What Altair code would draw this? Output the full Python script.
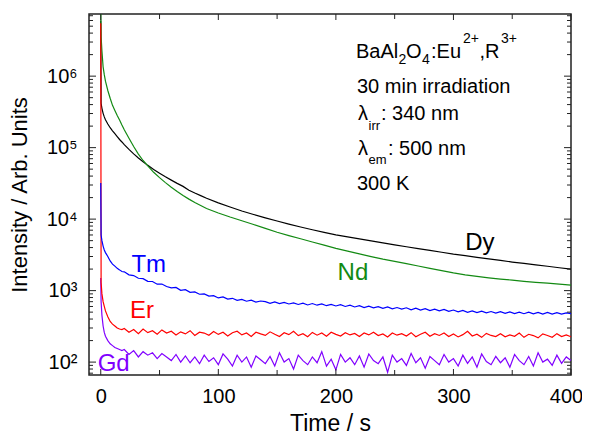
import altair as alt
import pandas as pd

# ---------------- data ----------------
TIME_SMOOTH = [0, 0.3, 1, 2, 3, 4, 6, 8, 10, 12, 14, 16, 18, 20, 24, 28, 32, 36, 40, 45, 50, 55, 60,
               65, 70, 75, 80, 85, 90] + list(range(100, 401, 10))
TIME_NOISY = [0, 0.3, 1, 2, 3, 4, 6, 8, 10, 12, 14, 16, 18] + list(range(20, 401, 4))

DY = [6000000, 417000, 355000, 302000, 269000, 245000, 214000, 190000, 172000, 157000, 143000, 130000, 120000,
      110000, 94400, 81800, 71600, 63400, 56500, 49500, 43900, 39100, 35100,
      31600, 28700, 25400, 23200, 21300, 19600,
      16900, 14800, 13000, 11600, 10400, 9400, 8510, 7760, 7110, 6530, 6030,
      5650, 5300, 4970, 4660, 4370, 4110, 3870, 3650, 3440, 3240,
      3080, 2920, 2780, 2640, 2510, 2400, 2290, 2190, 2090, 2000]

ND = [10000000, 3550000, 2240000, 1350000, 1050000, 850000, 630000, 490000, 390000, 331000, 282000, 243000, 207000,
      178000, 135000, 103500, 81300, 66100, 55600, 45200, 38000, 32400, 27900,
      24300, 21400, 19050, 17100, 15500, 14100,
      12200, 10700, 9480, 8410, 7410, 6560, 5890, 5310, 4790, 4320, 3890,
      3560, 3270, 2990, 2750, 2560, 2380, 2210, 2050, 1905, 1770,
      1660, 1580, 1510, 1450, 1400, 1350, 1305, 1270, 1230, 1195]

TM = [32000, 6000, 5000, 4200, 3700, 3400, 3000, 2600, 2350, 2200, 2050, 1950, 1850,
      1830, 1660, 1625, 1490, 1470, 1350, 1340, 1230, 1235, 1140,
      1090, 1110, 1010, 1030, 945, 960, 890, 900, 840, 850,
      790, 815, 760, 780, 730, 755, 710, 735, 690, 715,
      700, 665, 695, 660, 685, 650, 675, 640, 668, 630,
      660, 625, 650, 615, 640, 610, 635, 600, 625, 590,
      615, 580, 605, 575, 598, 565, 590, 555, 580, 550,
      575, 540, 568, 535, 558, 525, 550, 520, 545, 512,
      535, 505, 528, 498, 520, 492, 515, 488, 510, 485,
      508, 480, 505, 478, 500, 475, 498, 472, 495, 470,
      495, 470, 492, 468, 488, 476]

ER = [5500000, 1300, 900, 700, 600, 520, 430, 370, 340, 320, 300, 290, 285,
      295, 262, 285, 250, 290, 258, 275, 245, 282, 255,
      270, 240, 265, 248, 275, 236, 262, 255, 238, 268,
      244, 262, 232, 258, 270, 240, 255, 228, 262, 248,
      236, 265, 245, 228, 258, 242, 270, 235, 250, 226,
      260, 238, 255, 230, 262, 244, 232, 258, 240, 252,
      228, 256, 240, 262, 235, 248, 225, 255, 238, 250,
      232, 258, 226, 245, 262, 230, 250, 236, 255, 228,
      248, 225, 242, 270, 232, 246, 222, 252, 236, 228,
      250, 226, 240, 230, 255, 222, 245, 235, 218, 248,
      236, 222, 250, 228, 240, 226]

GD = [1500, 700, 450, 320, 260, 230, 200, 180, 170, 160, 155, 150, 145,
      150, 128, 145, 118, 140, 125, 135, 112, 132, 118,
      105, 128, 100, 122, 98, 118, 95, 125, 102, 115,
      92, 130, 110, 88, 125, 100, 118, 85, 122, 108,
      95, 120, 88, 135, 100, 112, 80, 125, 105, 92,
      118, 98, 140, 88, 110, 78, 128, 100, 115, 92,
      122, 85, 130, 105, 95, 118, 72, 125, 100, 112,
      90, 132, 98, 115, 82, 120, 105, 92, 128, 100,
      112, 88, 125, 96, 118, 85, 130, 102, 92, 120,
      98, 115, 85, 128, 105, 92, 120, 88, 135, 100,
      110, 90, 125, 96, 118, 105]

SERIES_ORDER = ["Dy", "Nd", "Gd", "Er", "Tm"]
SERIES_VALUES = {"Dy": DY, "Nd": ND, "Tm": TM, "Er": ER, "Gd": GD}
SERIES_TIME = {"Dy": TIME_SMOOTH, "Nd": TIME_SMOOTH, "Tm": TIME_NOISY, "Er": TIME_NOISY, "Gd": TIME_NOISY}
COLORS = {"Dy": "#000000", "Nd": "#138a13", "Tm": "#0000ff", "Er": "#ff0000", "Gd": "#8000ff"}

LABEL_NAMES = ["Tm", "Er", "Gd", "Nd", "Dy"]
LABEL_T = [40.8, 35, 11, 214.5, 322.5]
LABEL_I = [2275, 516, 94, 1787, 4690]

X_MAJOR = [0, 100, 200, 300, 400]
X_MINOR = [50, 150, 250, 350]
Y_MAJOR = [1e2, 1e3, 1e4, 1e5, 1e6]
Y_MINOR = [70, 80, 90] + [m * 10 ** k for k in range(2, 7) for m in range(2, 10) if m * 10 ** k < 7.4e6]

FONT = "Liberation Sans"
W, H = 482, 361

xscale = alt.Scale(domain=[-10, 400], nice=False, zero=False)
yscale = alt.Scale(type="log", domain=[66, 7.4e6], nice=False)

xaxis = alt.Axis(values=X_MAJOR, title="Time / s", ticks=False, domain=False, grid=False,
                 labelFontSize=20, titleFontSize=23, labelPadding=11, titlePadding=6,
                 labelFont=FONT, titleFont=FONT, titleFontWeight="normal",
                 labelColor="black", titleColor="black", labelFlush=False,
                 labelOffset={"condition": {"test": "datum.value == 400", "value": -5}, "value": 0})
yaxis = alt.Axis(values=Y_MAJOR, title="Intensity / Arb. Units", ticks=False, domain=False, grid=False,
                 labelFontSize=20, titleFontSize=22, labelPadding=12, titlePadding=15,
                 labelFont=FONT, titleFont=FONT, titleFontWeight="normal",
                 labelColor="black", titleColor="black", labelFlush=False,
                 labelExpr="'10' + ['\u2070','\u00b9','\u00b2','\u00b3','\u2074','\u2075','\u2076','\u2077'][round(log(datum.value)/LN10)]")

X_ENC = dict(scale=xscale, axis=xaxis)
Y_ENC = dict(scale=yscale, axis=yaxis)

layers = []
for name in SERIES_ORDER:
    df = pd.DataFrame({"t": SERIES_TIME[name], "v": SERIES_VALUES[name]})
    layers.append(
        alt.Chart(df).mark_line(color=COLORS[name], strokeWidth=1.2, clip=True).encode(
            x=alt.X("t:Q", **X_ENC),
            y=alt.Y("v:Q", **Y_ENC),
        )
    )

# series labels
lab_df = pd.DataFrame({"t": LABEL_T, "v": LABEL_I, "name": LABEL_NAMES,
                       "col": [COLORS[n] for n in LABEL_NAMES]})
layers.append(
    alt.Chart(lab_df).mark_text(fontSize=24, font=FONT, align="center", baseline="middle").encode(
        x=alt.X("t:Q", **X_ENC),
        y=alt.Y("v:Q", **Y_ENC),
        text="name:N",
        color=alt.Color("col:N", scale=None),
    )
)

# inward ticks on all four sides
def yticks(vals, length):
    d = pd.DataFrame({"v": vals})
    left = alt.Chart(d).mark_rule(color="#222", strokeWidth=1).encode(
        y=alt.Y("v:Q", **Y_ENC), x=alt.value(0), x2=alt.value(length))
    right = alt.Chart(d).mark_rule(color="#222", strokeWidth=1).encode(
        y=alt.Y("v:Q", **Y_ENC), x=alt.value(W - length), x2=alt.value(W))
    return [left, right]

def xticks(vals, length):
    d = pd.DataFrame({"t": vals})
    bottom = alt.Chart(d).mark_rule(color="#222", strokeWidth=1).encode(
        x=alt.X("t:Q", **X_ENC), y=alt.value(H - length), y2=alt.value(H))
    top = alt.Chart(d).mark_rule(color="#222", strokeWidth=1).encode(
        x=alt.X("t:Q", **X_ENC), y=alt.value(0), y2=alt.value(length))
    return [bottom, top]

layers += yticks(Y_MAJOR, 7) + yticks(Y_MINOR, 4) + xticks(X_MAJOR, 6) + xticks(X_MINOR, 5)

# annotation block (text pieces with sub/superscripts), plot-area pixel anchors
ANN_TEXT = ["BaAl", "2", "O", "4", ":Eu", "2+", ",R", "3+",
            "30 min irradiation",
            "\u03bb", "irr", ": 340 nm",
            "\u03bb", "em", ": 500 nm",
            "300 K"]
ANN_X = [267, 309.5, 317, 333, 342, 374, 390.5, 412,
         268,
         269, 279.5, 292,
         269, 279.5, 299,
         268]
ANN_Y = [44, 49.5, 44, 49.5, 44, 29, 44, 29,
         79,
         106, 115.5, 106,
         141, 149.5, 141,
         176]
ANN_SIZE = [20, 14, 20, 14, 20, 14, 20, 14,
            20,
            20, 13, 20,
            20, 13, 20,
            20]
for txt, ax, ay, sz in zip(ANN_TEXT, ANN_X, ANN_Y, ANN_SIZE):
    layers.append(
        alt.Chart(pd.DataFrame({"s": [txt]})).mark_text(
            fontSize=sz, font=FONT, align="left", baseline="alphabetic", color="black"
        ).encode(x=alt.value(ax), y=alt.value(ay), text="s:N")
    )

chart = alt.layer(*layers).properties(
    width=W, height=H,
    background="white",
    autosize=alt.AutoSizeParams(type="none"),
    padding={"left": 81, "top": 6, "right": 11, "bottom": 60},
).configure_view(stroke="#222", strokeWidth=1.5)

chart.save("out.html", embed_options={"renderer": "svg", "actions": False})
